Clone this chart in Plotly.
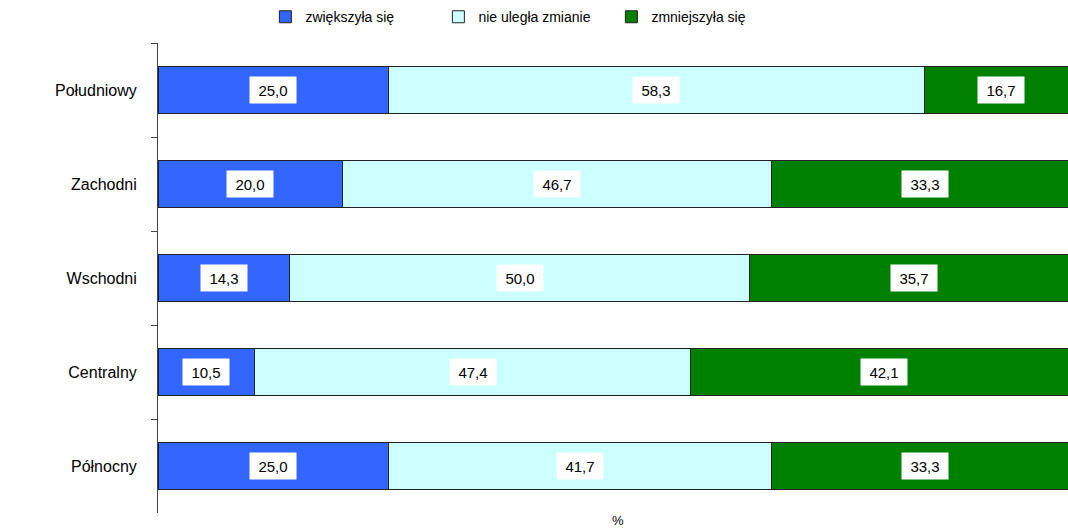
import plotly.graph_objects as go

categories = ["Południowy", "Zachodni", "Wschodni", "Centralny", "Północny"]
series_names = ["zwiększyła się", "nie uległa zmianie", "zmniejszyła się"]
increased = [25.0, 20.0, 14.3, 10.5, 25.0]
unchanged = [58.3, 46.7, 50.0, 47.4, 41.7]
decreased = [16.7, 33.3, 35.7, 42.1, 33.3]
colors = ["#3366FF", "#CCFFFF", "#008000"]

FONT = "Liberation Sans, Arial, sans-serif"
series = [increased, unchanged, decreased]

fig = go.Figure()
for name, vals, col in zip(series_names, series, colors):
    fig.add_trace(go.Bar(
        y=categories, x=vals, name=name, orientation="h",
        marker=dict(color=col, line=dict(color="#222222", width=1)),
        hoverinfo="skip",
    ))

def fmt(v):
    return f"{v:.1f}".replace(".", ",")

annotations = []
for i, cat in enumerate(categories):
    base = 0.0
    for vals in series:
        v = vals[i]
        annotations.append(dict(
            x=base + v / 2, y=cat, xref="x", yref="y", text=fmt(v),
            showarrow=False, bgcolor="white", borderpad=3,
            width=40, height=20, align="center", valign="middle",
            font=dict(family=FONT, size=15, color="black"),
        ))
        base += v

annotations.append(dict(
    x=50, y=-0.015, xref="x", yref="paper", text="%", showarrow=False,
    font=dict(family=FONT, size=13, color="black"), yanchor="middle",
))

fig.update_layout(
    width=1068, height=528,
    margin=dict(l=158, r=0, t=43, b=15),
    barmode="stack", bargap=0.5,
    plot_bgcolor="white", paper_bgcolor="white",
    font=dict(family=FONT, size=15, color="black"),
    showlegend=True,
    legend=dict(
        orientation="h", x=0.118, xanchor="left", y=1.055, yanchor="middle",
        font=dict(family=FONT, size=14, color="black"),
        itemwidth=30, entrywidth=128, entrywidthmode="pixels",
        traceorder="normal",
    ),
    annotations=annotations,
    xaxis=dict(range=[0, 98.9], showgrid=False, zeroline=False,
               showticklabels=False, showline=False, ticks=""),
    yaxis=dict(categoryorder="array", categoryarray=categories,
               autorange="reversed", showgrid=False, zeroline=False,
               showline=True, linecolor="#444444", linewidth=1,
               ticks="outside", tickson="boundaries", ticklen=6,
               tickcolor="#444444", ticklabelstandoff=17,
               tickfont=dict(family=FONT, size=16, color="black")),
)

fig.write_html("out.html", config={"displayModeBar": False},
               post_script="document.body.style.margin='0px';")
